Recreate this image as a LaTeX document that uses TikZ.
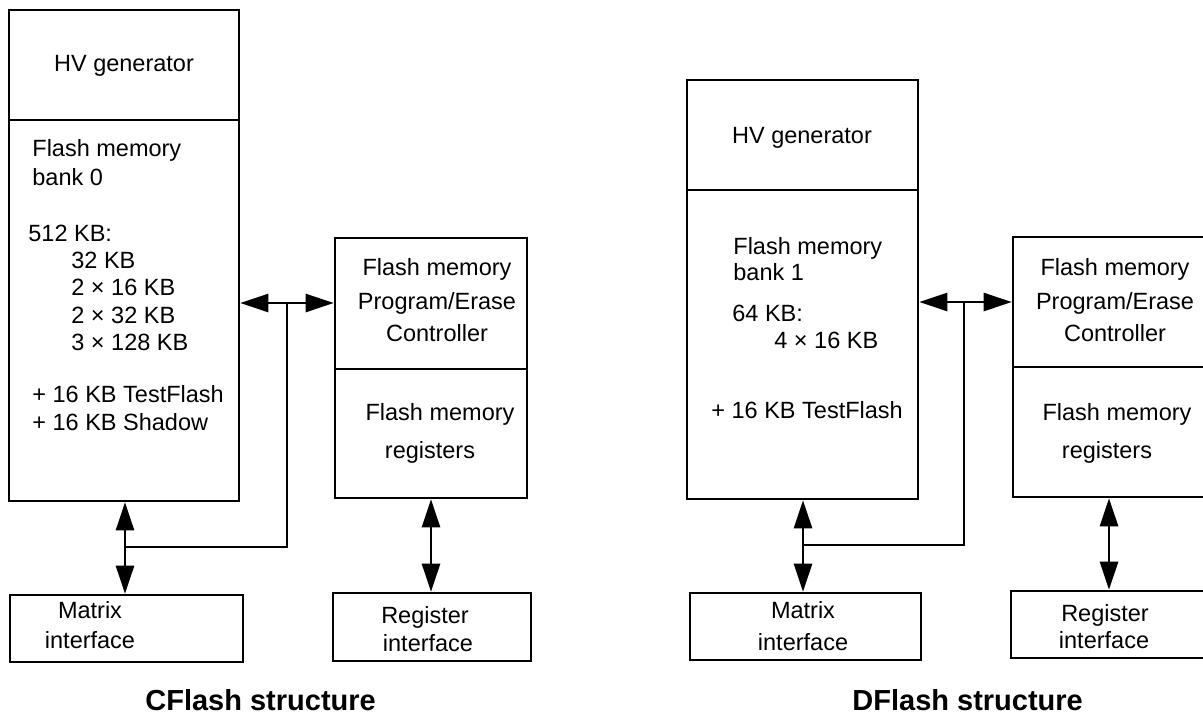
\documentclass[tikz,border=0pt]{standalone}
\usepackage{fontspec}
\setmainfont{Liberation Sans}
\usetikzlibrary{arrows.meta,fit}
\tikzset{
  blockbox/.style={draw,line width=1.3pt,inner sep=0pt},
  wire/.style={line width=1.3pt},
  flow/.style={wire,{Triangle[length=14pt,width=9pt]}-{Triangle[length=14pt,width=9pt]}},
  txt/.style={font=\fontsize{11.75pt}{14pt}\selectfont,inner sep=0pt,anchor=base west},
  ctxt/.style={txt,anchor=base},
  ttl/.style={font=\fontsize{14.5pt}{16pt}\selectfont\bfseries,inner sep=0pt,anchor=base west}
}
\newcommand*\flashbox[3]{\node [blockbox,fit={#2 #3}] (#1) {};}
\begin{document}
\begin{tikzpicture}[x=0.5pt,y=-0.5pt]
\useasboundingbox (0,0) rectangle (1203,723);

% CFlash side
\flashbox{hv0}{(9,10)}{(239,120)}
\flashbox{bank0}{(9,120)}{(239,501)}
\flashbox{ctrl0}{(335,238)}{(527,369)}
\flashbox{regs0}{(335,369)}{(527,498)}
\flashbox{mtx0}{(10,595)}{(243,662)}
\flashbox{rif0}{(333,593)}{(531,661)}

\node[ctxt] (hv0-t) at (124,71) {HV generator};
\foreach \x/\y/\t [count=\i] in {32/156/Flash memory, 32/185/bank 0, 28/241/512 KB:,
    71/268/32 KB, 71/295/2 × 16 KB, 71/323/2 × 32 KB, 71/350/3 × 128 KB,
    32/402/+ 16 KB TestFlash, 32/430/+ 16 KB Shadow}
  \node[txt] (bank0-\i) at (\x,\y) {\t};
\foreach \y/\t [count=\i] in {275/Flash memory, 309/{Program/Erase}, 341/Controller}
  \node[ctxt] (ctrl0-\i) at (437,\y) {\t};
\node[ctxt] (regs0-1) at (440,420) {Flash memory};
\node[ctxt] (regs0-2) at (430,458) {registers};
\node[ctxt] (mtx0-1) at (90,618) {Matrix};
\node[ctxt] (mtx0-2) at (90,648) {interface};
\node[ctxt] (rif0-1) at (425,623) {Register};
\node[ctxt] (rif0-2) at (428,651) {interface};

\coordinate (bus0) at (287,303);
\coordinate (tap0) at (125,547);
\draw[flow] (bus0 -| bank0.east) -- (bus0 -| ctrl0.west);
\draw[wire] (bus0) |- (tap0);
\draw[flow] (bank0.south -| tap0) -- (mtx0.north -| tap0);
\draw[flow] (regs0.south -| 431,0) -- (rif0.north -| 431,0);

\node[ttl] (title0) at (145,710) {CFlash structure};

% DFlash side
\flashbox{hv1}{(687,80)}{(918,190)}
\flashbox{bank1}{(687,190)}{(918,499)}
\flashbox{ctrl1}{(1013,237)}{(1205,367)}
\flashbox{regs1}{(1013,367)}{(1205,497)}
\flashbox{mtx1}{(690,593)}{(921,660)}
\flashbox{rif1}{(1011,591)}{(1205,658)}

\node[ctxt] (hv1-t) at (802,143) {HV generator};
\foreach \x/\y/\t [count=\i] in {733/254/Flash memory, 733/280/bank 1, 732/321/64 KB:,
    774/348/4 × 16 KB, 711/418/+ 16 KB TestFlash}
  \node[txt] (bank1-\i) at (\x,\y) {\t};
\foreach \y/\t [count=\i] in {275/Flash memory, 309/{Program/Erase}, 341/Controller}
  \node[ctxt] (ctrl1-\i) at (1115,\y) {\t};
\node[ctxt] (regs1-1) at (1117,420) {Flash memory};
\node[ctxt] (regs1-2) at (1107,458) {registers};
\node[ctxt] (mtx1-1) at (803,618) {Matrix};
\node[ctxt] (mtx1-2) at (803,650) {interface};
\node[ctxt] (rif1-1) at (1105,621) {Register};
\node[ctxt] (rif1-2) at (1104,648) {interface};

\coordinate (bus1) at (964,302);
\coordinate (tap1) at (803,545);
\draw[flow] (bus1 -| bank1.east) -- (bus1 -| ctrl1.west);
\draw[wire] (bus1) |- (tap1);
\draw[flow] (bank1.south -| tap1) -- (mtx1.north -| tap1);
\draw[flow] (regs1.south -| 1109,0) -- (rif1.north -| 1109,0);

\node[ttl] (title1) at (852,710) {DFlash structure};
\end{tikzpicture}
\end{document}
